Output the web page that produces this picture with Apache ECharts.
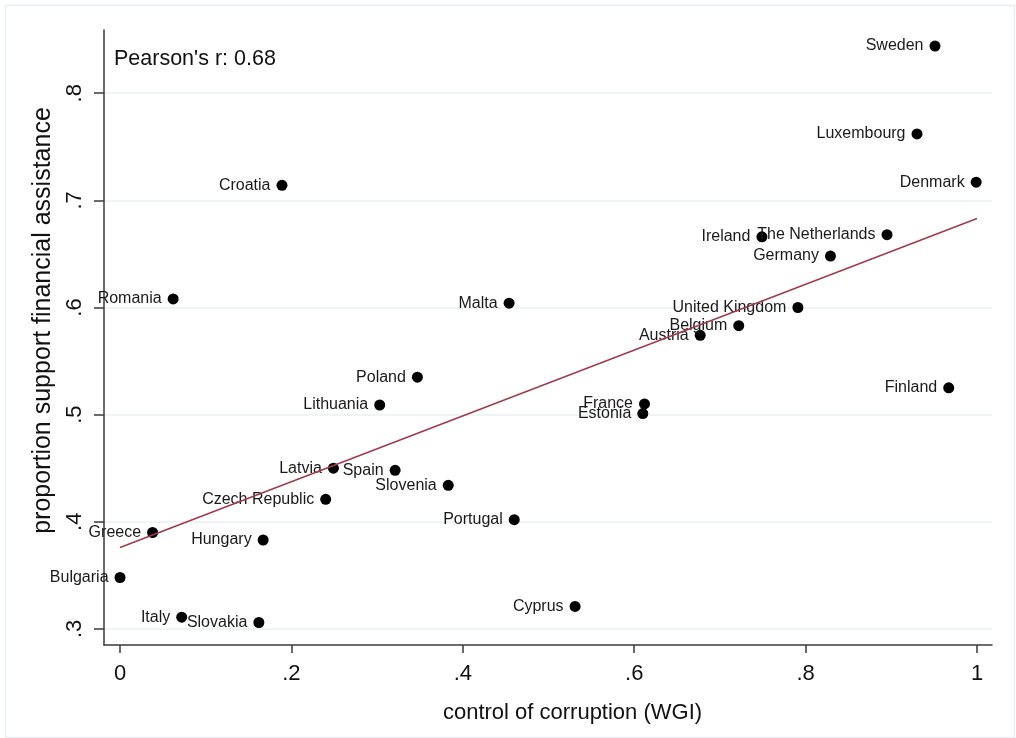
<!DOCTYPE html>
<html>
<head>
<meta charset="utf-8">
<script src="https://cdn.jsdelivr.net/npm/echarts@6/dist/echarts.min.js"></script>
<style>
html,body{margin:0;padding:0;background:#fff;}
#chart{width:1016px;height:738px;}
</style>
</head>
<body>
<div id="chart"></div>
<script>
const countries = ["Sweden","Luxembourg","Denmark","Croatia","Ireland","The Netherlands","Germany","United Kingdom","Belgium","Austria","Finland","France","Estonia","Malta","Poland","Lithuania","Spain","Slovenia","Latvia","Portugal","Czech Republic","Greece","Hungary","Bulgaria","Italy","Slovakia","Cyprus","Romania"];
const corruptionControl = [0.951,0.930,0.999,0.189,0.749,0.895,0.829,0.791,0.722,0.677,0.967,0.612,0.610,0.454,0.347,0.303,0.321,0.383,0.249,0.460,0.240,0.038,0.167,0.000,0.072,0.162,0.531,0.062];
const supportShare = [0.844,0.762,0.717,0.714,0.666,0.668,0.648,0.600,0.583,0.574,0.525,0.510,0.501,0.604,0.535,0.509,0.448,0.434,0.450,0.402,0.421,0.390,0.383,0.348,0.311,0.306,0.321,0.608];
const fitX = [0, 1];
const fitY = [0.376, 0.683];
const xTicks = [0, 0.2, 0.4, 0.6, 0.8, 1];
const yTicks = [0.3, 0.4, 0.5, 0.6, 0.7, 0.8];
const annotation = "Pearson's r: 0.68";
const xTitle = "control of corruption (WGI)";
const yTitle = "proportion support financial assistance";

const fmt = v => { const s = String(+v.toFixed(2)); return s.startsWith('0.') ? s.slice(1) : s; };
const FONT = 'Liberation Sans, Arial, sans-serif';

const chart = echarts.init(document.getElementById('chart'), null, {renderer:'canvas'});
const scatterData = countries.map((c,i) => ({name:c, value:[corruptionControl[i], supportShare[i]]}));
const fitData = fitX.map((x,i) => [x, fitY[i]]);

chart.setOption({
  animation:false,
  backgroundColor:'#ffffff',
  grid:{left:104, right:24, top:30, bottom:93, containLabel:false},
  graphic:[
    {type:'rect', left:3, top:3, shape:{width:1009, height:732}, style:{fill:'none', stroke:'#e6eef1', lineWidth:1.5}, z:-1, silent:true},
    {type:'text', left:114, top:48, style:{text:annotation, font:'21.5px ' + FONT, fill:'#111111'}}
  ],
  xAxis:{
    type:'value', min:-0.0187, max:1.0175,
    name:xTitle, nameLocation:'middle', nameGap:57,
    nameTextStyle:{fontSize:22, fontFamily:FONT, color:'#111111', padding:[0,0,0,49]},
    axisLine:{show:true, onZero:false, lineStyle:{color:'#3a3a3a', width:1.5}},
    axisTick:{show:true, length:8, customValues:xTicks, lineStyle:{color:'#3a3a3a', width:1.5}},
    axisLabel:{customValues:xTicks, formatter:fmt, fontSize:22, fontFamily:FONT, color:'#111111', margin:18},
    splitLine:{show:false}
  },
  yAxis:{
    type:'value', min:0.285, max:0.859,
    name:yTitle, nameLocation:'middle', nameGap:48, nameRotate:90,
    nameTextStyle:{fontSize:25, fontFamily:FONT, color:'#111111', padding:[0,0,0,34]},
    axisLine:{show:true, onZero:false, lineStyle:{color:'#3a3a3a', width:1.5}},
    axisTick:{show:true, length:10, customValues:yTicks, lineStyle:{color:'#3a3a3a', width:1.5}},
    axisLabel:{customValues:yTicks, formatter:fmt, rotate:90, fontSize:22, fontFamily:FONT, color:'#111111', margin:18},
    splitLine:{show:false}
  },
  series:[
    {
      type:'scatter', data:scatterData, symbol:'circle', symbolSize:11,
      itemStyle:{color:'#000000', opacity:1},
      label:{show:true, position:'left', distance:6, formatter:p=>p.name, fontSize:16, fontFamily:FONT, color:'#1a1a1a'},
      markLine:{
        silent:true, symbol:['none','none'], label:{show:false},
        lineStyle:{color:'#eaf1f3', width:1.5, type:'solid', opacity:1},
        data:yTicks.map(v=>({yAxis:v})),
        z:0
      },
      z:2
    },
    {
      type:'line', data:fitData, showSymbol:false, symbol:'none',
      lineStyle:{color:'#9e3b4c', width:1.5}, z:3
    }
  ]
});
</script>
</body>
</html>
